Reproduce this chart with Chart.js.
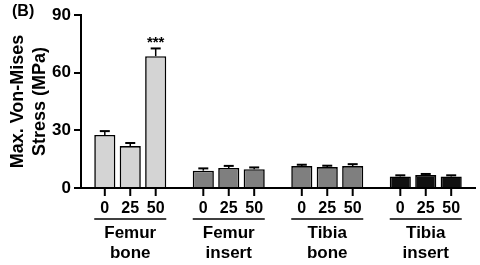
<!DOCTYPE html>
<html>
<head>
<meta charset="utf-8">
<script src="https://cdn.jsdelivr.net/npm/chart.js@4/dist/chart.umd.min.js"></script>
<style>
html,body{margin:0;padding:0;background:#fff;}
#wrap{width:480px;height:265px;position:relative;}
</style>
</head>
<body>
<div id="wrap"><canvas id="c" width="480" height="265"></canvas></div>
<script>
// ---- data ----
const groupNames = [["Femur","bone"],["Femur","insert"],["Tibia","bone"],["Tibia","insert"]];
const doses = ["0","25","50"];
const dose0Mean  = [27.6, 9.0, 11.4, 6.0];
const dose25Mean = [21.8, 10.4, 10.9, 6.7];
const dose50Mean = [68.6, 9.8, 11.4, 6.0];
const dose0Err   = [2.0, 1.2, 0.7, 0.6];
const dose25Err  = [1.6, 1.1, 0.7, 0.6];
const dose50Err  = [4.0, 0.9, 1.0, 0.6];
const groupColors = ["#d4d4d4","#7f7f7f","#7f7f7f","#111111"];
const yTicks = [0, 30, 60, 90];
const stars = [{group:0, dose:2, text:"***"}];
const panelLabel = "(B)";
const yTitle = ["Max. Von-Mises","Stress (MPa)"];

const means = [dose0Mean, dose25Mean, dose50Mean];
const errs = [dose0Err, dose25Err, dose50Err];
const FONT = "'Liberation Sans', Arial, sans-serif";

const customPlugin = {
  id: 'custom',
  afterDatasetsDraw(chart) {
    const ctx = chart.ctx;
    const y = chart.scales.y;
    const x = chart.scales.x;
    ctx.save();
    ctx.strokeStyle = '#000';
    ctx.fillStyle = '#000';
    // error bars
    chart.data.datasets.forEach((ds, d) => {
      const meta = chart.getDatasetMeta(d);
      meta.data.forEach((bar, i) => {
        const top = y.getPixelForValue(means[d][i] + errs[d][i]);
        const base = bar.y;
        ctx.lineWidth = 1.5;
        ctx.beginPath();
        ctx.moveTo(bar.x, base);
        ctx.lineTo(bar.x, top);
        ctx.stroke();
        ctx.lineWidth = 2;
        ctx.beginPath();
        ctx.moveTo(bar.x - 5, top);
        ctx.lineTo(bar.x + 5, top);
        ctx.stroke();
      });
    });
    // stars
    ctx.font = "bold 15px " + FONT;
    ctx.textAlign = 'center';
    ctx.textBaseline = 'alphabetic';
    stars.forEach(s => {
      const bar = chart.getDatasetMeta(s.dose).data[s.group];
      const top = y.getPixelForValue(means[s.dose][s.group] + errs[s.dose][s.group]);
      ctx.fillText(s.text, bar.x, top - 1);
    });
    // x tick marks and dose labels
    const axisY = chart.chartArea.bottom;
    chart.data.datasets.forEach((ds, d) => {
      const meta = chart.getDatasetMeta(d);
      meta.data.forEach((bar, i) => {
        ctx.lineWidth = 2;
        ctx.beginPath();
        ctx.moveTo(bar.x, axisY);
        ctx.lineTo(bar.x, axisY + 8);
        ctx.stroke();
        ctx.font = "bold 16px " + FONT;
        ctx.textBaseline = 'middle';
        ctx.fillText(doses[d], bar.x, axisY + 21);
      });
    });
    // underline and group names
    groupNames.forEach((g, i) => {
      const first = chart.getDatasetMeta(0).data[i];
      const last = chart.getDatasetMeta(2).data[i];
      const l = first.x - first.width / 2;
      const r = last.x + last.width / 2;
      ctx.lineWidth = 1.5;
      ctx.beginPath();
      ctx.moveTo(l, axisY + 31);
      ctx.lineTo(r, axisY + 31);
      ctx.stroke();
      const cx = x.getPixelForValue(i);
      ctx.font = "bold 17px " + FONT;
      ctx.fillText(g[0], cx, axisY + 45);
      ctx.fillText(g[1], cx, axisY + 65);
    });
    // panel label
    ctx.font = "bold 16px " + FONT;
    ctx.textAlign = 'left';
    ctx.fillText(panelLabel, 12, 12);
    ctx.restore();
  }
};

new Chart(document.getElementById('c'), {
  type: 'bar',
  data: {
    labels: groupNames.map(g => g.join(' ')),
    datasets: doses.map((d, k) => ({
      label: d,
      data: means[k],
      backgroundColor: groupColors,
      borderColor: '#000',
      borderWidth: 1.6,
      borderSkipped: 'bottom',
      categoryPercentage: 0.775,
      barPercentage: 0.83
    }))
  },
  options: {
    responsive: false,
    animation: false,
    devicePixelRatio: 1,
    layout: { padding: { top: 15, right: 5, left: 0, bottom: 0 } },
    plugins: { legend: { display: false }, tooltip: { enabled: false } },
    scales: {
      x: {
        grid: { display: false },
        border: { display: true, color: '#000', width: 2 },
        ticks: { display: false },
        afterFit(s) { s.height = 77; }
      },
      y: {
        min: 0, max: 90,
        afterBuildTicks(s) { s.ticks = yTicks.map(v => ({ value: v })); },
        grid: { drawOnChartArea: false, color: '#000', tickLength: 7, lineWidth: 2, tickColor: '#000' },
        border: { display: true, color: '#000', width: 2 },
        ticks: { color: '#000', font: { family: FONT, size: 17, weight: 'bold' }, padding: 3 },
        title: { display: true, text: yTitle, color: '#000', font: { family: FONT, size: 18, weight: 'bold', lineHeight: 1.22 }, padding: { top: 7, bottom: 4 } },
        afterFit(s) { s.width = 81; }
      }
    }
  },
  plugins: [customPlugin]
});
</script>
</body>
</html>
